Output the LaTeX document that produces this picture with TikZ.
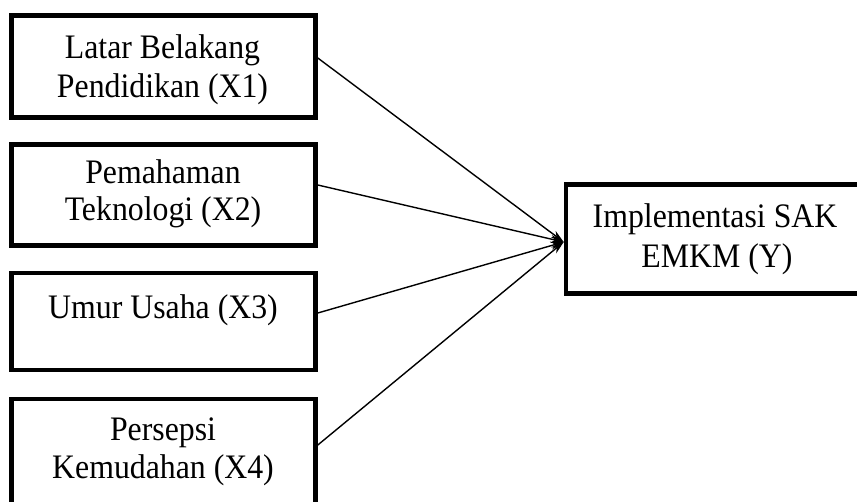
\documentclass[tikz,border=0pt]{standalone}
\usepackage{fontspec}
\setmainfont{Liberation Serif}
\usetikzlibrary{arrows.meta}
\newcommand{\tallx}[1]{\scalebox{1}[1.08]{#1}}
\begin{document}
\begin{tikzpicture}[x=1pt,y=-1pt,
  box/.style={draw=black, line width=4.6pt, rectangle, inner sep=0pt},
  txt/.style={anchor=base, inner sep=0pt, font=\fontsize{31.8}{38}\selectfont},
  conn/.style={draw=black, line width=1.4pt, -{Stealth[length=13pt,width=8pt,inset=4pt]}}]
\useasboundingbox (0,0) rectangle (857,501);
\fill[white] (0,0) rectangle (857,501);
% boxes
\node[box, minimum width=304pt, minimum height=102pt] (b1) at (163.5,66.5) {};
\node[box, minimum width=304pt, minimum height=101pt] (b2) at (163.5,195) {};
\node[box, minimum width=304pt, minimum height=97pt] (b3) at (163.5,321.5) {};
\node[box, minimum width=304pt, minimum height=121pt] (b4) at (163.5,459.5) {};
\node[box, minimum width=340pt, minimum height=109pt] (y) at (736,239) {};
% texts
\node[txt] (t1a) at (162.5,58) {\tallx{Latar Belakang}};
\node[txt] (t1b) at (162.5,97) {\tallx{Pendidikan (X1)}};
\node[txt] (t2a) at (163,183) {\tallx{Pemahaman}};
\node[txt] (t2b) at (163,220) {\tallx{Teknologi (X2)}};
\node[txt] (t3a) at (163,318) {\tallx{Umur Usaha (X3)}};
\node[txt] (t4a) at (163,440) {\tallx{Persepsi}};
\node[txt] (t4b) at (163,478) {\tallx{Kemudahan (X4)}};
\node[txt] (tya) at (715,227) {\tallx{Implementasi SAK}};
\node[txt] (tyb) at (717,267) {\tallx{EMKM (Y)}};
% connector ends
\coordinate (s1) at (b1.east |- 0,58);
\coordinate (s2) at (b2.east |- 0,185);
\coordinate (s3) at (b3.east |- 0,313);
\coordinate (s4) at (b4.east |- 0,445);
\coordinate (tp) at (y.west |- 0,242);
\draw[conn] (s1) -- (tp);
\draw[conn] (s2) -- (tp);
\draw[conn] (s3) -- (tp);
\draw[conn] (s4) -- (tp);
\end{tikzpicture}
\end{document}
